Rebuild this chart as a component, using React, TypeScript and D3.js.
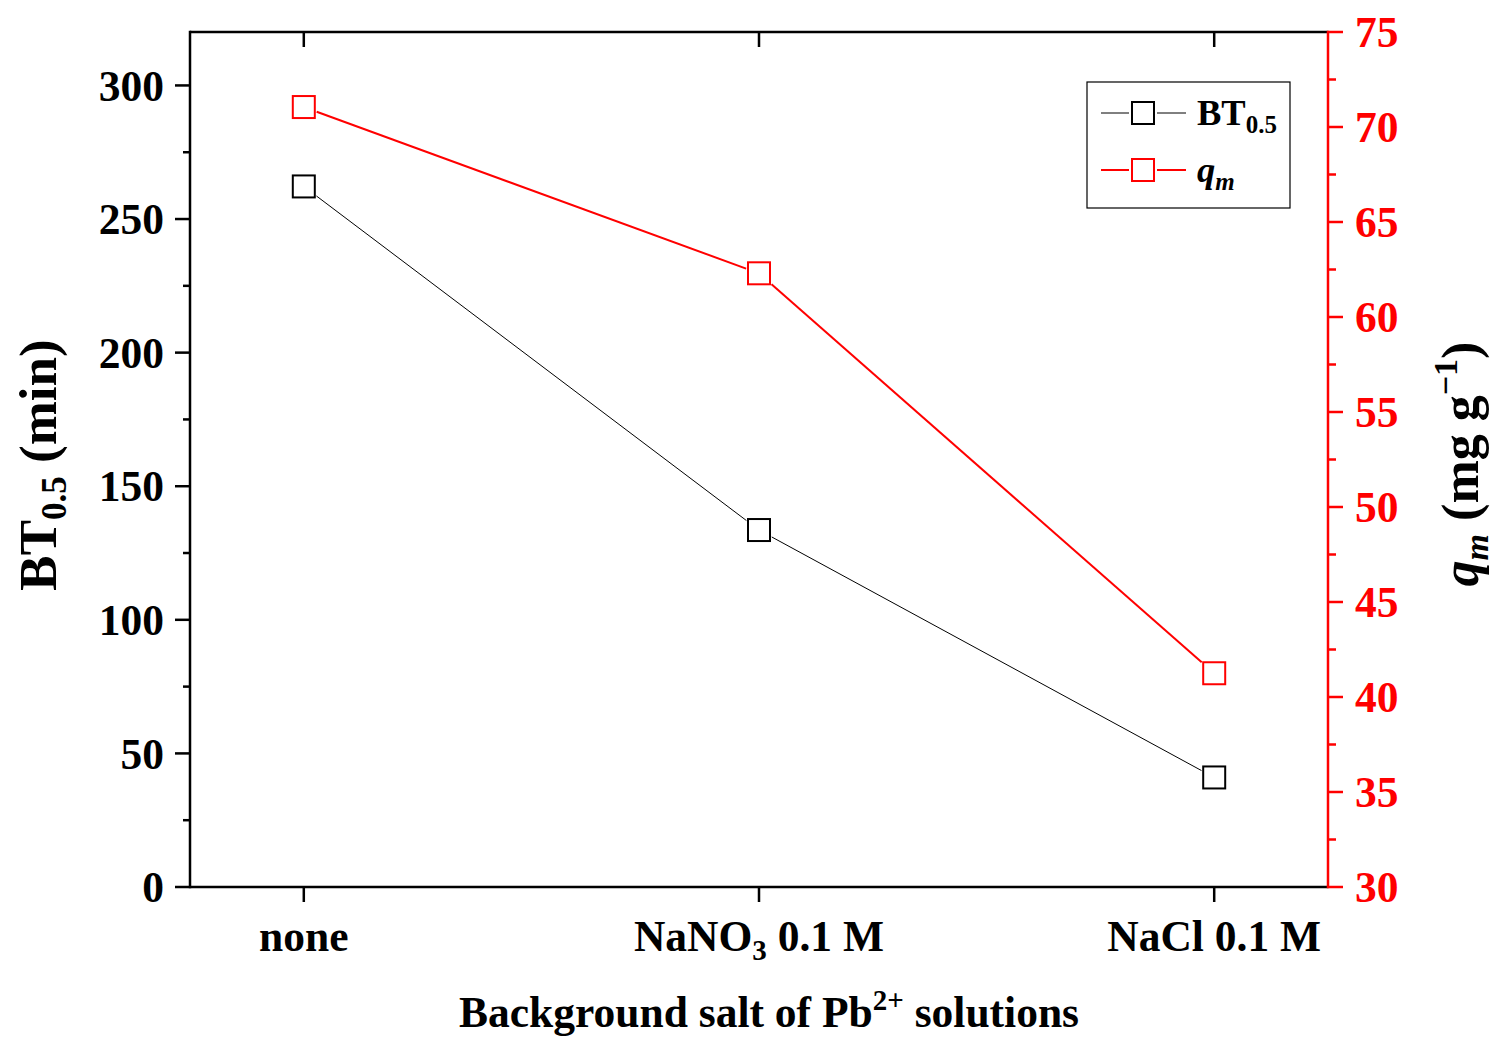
import React from "react";
import * as d3 from "d3";

const categories = ["none", "NaNO3 0.1 M", "NaCl 0.1 M"];
const bt05 = [262.2, 133.6, 41.0];
const qm = [71.05, 62.3, 41.25];
const leftTicks = [0, 50, 100, 150, 200, 250, 300];
const leftMinor = [25, 75, 125, 175, 225, 275];
const rightTicks = [30, 35, 40, 45, 50, 55, 60, 65, 70, 75];
const rightMinor = [32.5, 37.5, 42.5, 47.5, 52.5, 57.5, 62.5, 67.5, 72.5];

const W = 1506;
const H = 1051;
const L = 190, R = 1328, T = 32, B = 887;
const FONT = "'Liberation Serif', 'Times New Roman', serif";
const FS = 43.5;

const x = d3.scaleLinear().domain([-0.25, 2.25]).range([L, R]);
const yL = d3.scaleLinear().domain([0, 320]).range([B, T]);
const yR = d3.scaleLinear().domain([30, 75]).range([B, T]);

const HALF = 11;

function segments(pts: [number, number][], gap: number) {
  const segs: [number, number, number, number][] = [];
  for (let i = 0; i < pts.length - 1; i++) {
    const [x1, y1] = pts[i];
    const [x2, y2] = pts[i + 1];
    const dx = x2 - x1, dy = y2 - y1;
    const len = Math.hypot(dx, dy);
    const ux = dx / len, uy = dy / len;
    const t = HALF / Math.max(Math.abs(ux), Math.abs(uy)) + gap;
    segs.push([x1 + ux * t, y1 + uy * t, x2 - ux * t, y2 - uy * t]);
  }
  return segs;
}

function CatLabel({ label, cx }: { label: string; cx: number }) {
  if (label.startsWith("NaNO3")) {
    return (
      <text x={cx} y={951} textAnchor="middle" fontSize={FS} fontWeight="bold" fontFamily={FONT}>
        NaNO<tspan fontSize={29} dy={9}>3</tspan>
        <tspan dy={-9}> 0.1 M</tspan>
      </text>
    );
  }
  return (
    <text x={cx} y={951} textAnchor="middle" fontSize={FS} fontWeight="bold" fontFamily={FONT}>
      {label}
    </text>
  );
}

export default function App() {
  const btPts: [number, number][] = bt05.map((v, i) => [x(i), yL(v)]);
  const qPts: [number, number][] = qm.map((v, i) => [x(i), yR(v)]);
  const btSegs = segments(btPts, 2);
  const qSegs = segments(qPts, 2);

  return (
    <svg
      width={W}
      height={H}
      style={{ position: "absolute", left: 0, top: 0, background: "#fff" }}
      fontFamily={FONT}
    >
      <rect x={0} y={0} width={W} height={H} fill="#fff" />

      {/* data lines */}
      {btSegs.map((s, i) => (
        <line key={"bl" + i} x1={s[0]} y1={s[1]} x2={s[2]} y2={s[3]} stroke="#000" strokeWidth={1} />
      ))}
      {qSegs.map((s, i) => (
        <line key={"ql" + i} x1={s[0]} y1={s[1]} x2={s[2]} y2={s[3]} stroke="#ff0000" strokeWidth={2} />
      ))}
      {btPts.map((p, i) => (
        <rect key={"bm" + i} x={p[0] - HALF} y={p[1] - HALF} width={HALF * 2} height={HALF * 2}
          fill="none" stroke="#000" strokeWidth={2} />
      ))}
      {qPts.map((p, i) => (
        <rect key={"qm" + i} x={p[0] - HALF} y={p[1] - HALF} width={HALF * 2} height={HALF * 2}
          fill="none" stroke="#ff0000" strokeWidth={2} />
      ))}

      {/* top axis */}
      <line x1={L} y1={T} x2={R} y2={T} stroke="#000" strokeWidth={2.5} />
      {categories.map((c, i) => (
        <line key={"tt" + i} x1={x(i)} y1={T} x2={x(i)} y2={T + 15} stroke="#000" strokeWidth={2.5} />
      ))}

      {/* bottom axis */}
      <line x1={L} y1={B} x2={R} y2={B} stroke="#000" strokeWidth={2.5} />
      {categories.map((c, i) => (
        <g key={"bt" + i}>
          <line x1={x(i)} y1={B} x2={x(i)} y2={B + 15} stroke="#000" strokeWidth={2.5} />
          <CatLabel label={c} cx={x(i)} />
        </g>
      ))}

      {/* left axis */}
      <line x1={L} y1={T - 1.25} x2={L} y2={B + 1.25} stroke="#000" strokeWidth={2.5} />
      {leftTicks.map((v) => (
        <g key={"lt" + v}>
          <line x1={L - 15} y1={yL(v)} x2={L} y2={yL(v)} stroke="#000" strokeWidth={2.5} />
          <text x={164} y={yL(v)} dy="0.35em" textAnchor="end" fontSize={FS} fontWeight="bold">
            {v}
          </text>
        </g>
      ))}
      {leftMinor.map((v) => (
        <line key={"lm" + v} x1={L - 7} y1={yL(v)} x2={L} y2={yL(v)} stroke="#000" strokeWidth={2.5} />
      ))}

      {/* right axis */}
      <line x1={R} y1={T - 1.25} x2={R} y2={B + 1.25} stroke="#ff0000" strokeWidth={2.5} />
      {rightTicks.map((v) => (
        <g key={"rt" + v}>
          <line x1={R} y1={yR(v)} x2={R + 15} y2={yR(v)} stroke="#ff0000" strokeWidth={2.5} />
          <text x={1355} y={yR(v)} dy="0.35em" textAnchor="start" fontSize={FS} fontWeight="bold" fill="#ff0000">
            {v}
          </text>
        </g>
      ))}
      {rightMinor.map((v) => (
        <line key={"rm" + v} x1={R} y1={yR(v)} x2={R + 8} y2={yR(v)} stroke="#ff0000" strokeWidth={2.5} />
      ))}

      {/* axis titles */}
      <text x={769} y={1027} textAnchor="middle" fontSize={FS} fontWeight="bold">
        Background salt of Pb<tspan fontSize={29} dy={-17}>2+</tspan>
        <tspan dy={17}> solutions</tspan>
      </text>

      <text transform="translate(56,465) rotate(-90)" textAnchor="middle" fontSize={53} fontWeight="bold">
        BT<tspan fontSize={35} dy={10}>0.5</tspan>
        <tspan dy={-10}> (min)</tspan>
      </text>

      <text transform="translate(1478,464) rotate(-90)" textAnchor="middle" fontSize={52} fontWeight="bold">
        <tspan fontStyle="italic">q</tspan>
        <tspan fontStyle="italic" fontSize={34} dy={10}>m</tspan>
        <tspan dy={-10}> (mg g</tspan>
        <tspan fontSize={34} dy={-21}>−1</tspan>
        <tspan dy={21}>)</tspan>
      </text>

      {/* legend */}
      <rect x={1087} y={82} width={203} height={126} fill="#fff" stroke="#000" strokeWidth={1.2} />
      <line x1={1101} y1={113} x2={1129} y2={113} stroke="#000" strokeWidth={1} />
      <line x1={1157} y1={113} x2={1186} y2={113} stroke="#000" strokeWidth={1} />
      <rect x={1143 - HALF} y={113 - HALF} width={HALF * 2} height={HALF * 2} fill="none" stroke="#000" strokeWidth={2} />
      <text x={1197} y={125} fontSize={36.5} fontWeight="bold">
        BT<tspan fontSize={25} dy={8}>0.5</tspan>
      </text>
      <line x1={1101} y1={170} x2={1129} y2={170} stroke="#ff0000" strokeWidth={2} />
      <line x1={1157} y1={170} x2={1186} y2={170} stroke="#ff0000" strokeWidth={2} />
      <rect x={1143 - HALF} y={170 - HALF} width={HALF * 2} height={HALF * 2} fill="none" stroke="#ff0000" strokeWidth={2} />
      <text x={1197} y={182} fontSize={36.5} fontWeight="bold" fontStyle="italic">
        q<tspan fontSize={25} dy={8}>m</tspan>
      </text>
    </svg>
  );
}
